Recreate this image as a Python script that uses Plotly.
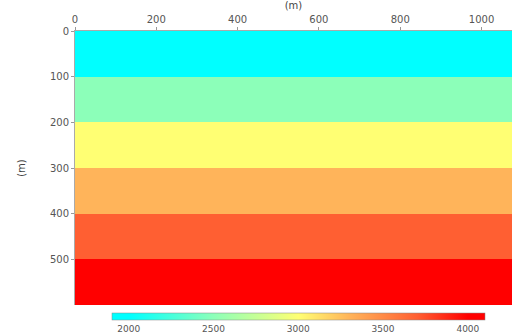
import plotly.graph_objects as go

# Layered velocity model: layer boundaries (m) and interval velocities (m/s)
layer_tops = [0, 100, 200, 300, 400, 500]
layer_bottom = 600
velocities = [2000, 2500, 3000, 3300, 3700, 4000]
model_width = 1075

x_ticks = [0, 200, 400, 600, 800, 1000]
y_ticks = [0, 100, 200, 300, 400, 500]
cbar_ticks = [2000, 2500, 3000, 3500, 4000]

vmin, vmax = 1900, 4100


def norm(v):
    return (v - vmin) / (vmax - vmin)


colorscale = [
    [0.0, "rgb(0,255,255)"],
    [norm(2000), "rgb(0,255,255)"],
    [norm(2500), "rgb(140,255,185)"],
    [norm(3000), "rgb(255,255,115)"],
    [norm(3300), "rgb(255,180,90)"],
    [norm(3700), "rgb(255,95,50)"],
    [norm(4000), "rgb(255,0,0)"],
    [1.0, "rgb(255,0,0)"],
]

z = [[v] for v in velocities]
y_edges = layer_tops + [layer_bottom]

fig = go.Figure(
    go.Heatmap(
        z=z,
        x=[0, model_width],
        y=y_edges,
        zmin=vmin,
        zmax=vmax,
        colorscale=colorscale,
        colorbar=dict(
            orientation="h",
            lenmode="pixels",
            len=393,
            thickness=7,
            x=0.511,
            xanchor="center",
            y=-0.028,
            yanchor="top",
            tickvals=cbar_ticks,
            ticks="",
            outlinewidth=0.5,
            outlinecolor="#888",
            tickfont=dict(size=9, color="#555", family="DejaVu Sans"),
            ypad=0,
        ),
        hoverinfo="skip",
    )
)

axis_font = dict(size=10, color="#555", family="DejaVu Sans")

fig.update_xaxes(
    side="top",
    range=[0, model_width],
    tickvals=x_ticks,
    ticks="outside",
    ticklen=3,
    tickcolor="#999",
    showline=True,
    linecolor="#aaa",
    linewidth=1,
    showgrid=False,
    zeroline=False,
    tickfont=axis_font,
    title=dict(text="(m)", font=dict(size=10, color="#444", family="DejaVu Sans"), standoff=2),
)
fig.update_yaxes(
    range=[layer_bottom, 0],
    tickvals=y_ticks,
    ticks="outside",
    ticklen=3,
    tickcolor="#999",
    showline=True,
    linecolor="#aaa",
    linewidth=1,
    showgrid=False,
    zeroline=False,
    tickfont=axis_font,
    title=dict(text="(m)", font=dict(size=10, color="#444", family="DejaVu Sans"), standoff=22),
)

fig.update_layout(
    width=513,
    height=336,
    margin=dict(l=75, r=1, t=31, b=31),
    paper_bgcolor="white",
    plot_bgcolor="white",
)

fig.write_html("out.html")
